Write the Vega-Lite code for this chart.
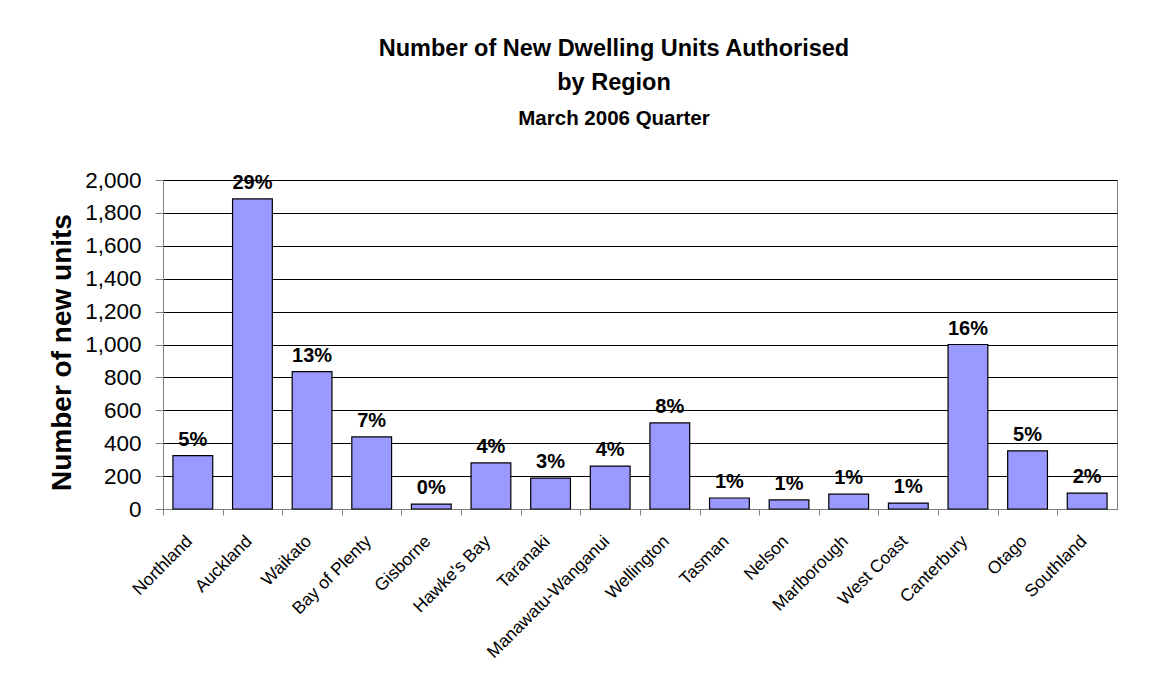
{
  "$schema": "https://vega.github.io/schema/vega-lite/v6.json",
  "width": 954,
  "height": 329,
  "autosize": {"type": "none"},
  "padding": {"left": 163, "top": 180, "right": 37, "bottom": 166},
  "background": "white",
  "title": {
    "text": ["Number of New Dwelling Units Authorised", "by Region"],
    "subtitle": "March 2006 Quarter",
    "anchor": "middle",
    "frame": "group",
    "dx": -26,
    "offset": 40,
    "font": "Liberation Sans",
    "fontSize": 23.5,
    "fontWeight": "bold",
    "lineHeight": 34,
    "color": "black",
    "subtitleFont": "Liberation Sans",
    "subtitleFontSize": 20.5,
    "subtitleFontWeight": "bold",
    "subtitleColor": "black",
    "subtitlePadding": 14
  },
  "data": {
    "values": [
      {"region": "Northland", "units": 325, "pct": "5%"},
      {"region": "Auckland", "units": 1885, "pct": "29%"},
      {"region": "Waikato", "units": 835, "pct": "13%"},
      {"region": "Bay of Plenty", "units": 438, "pct": "7%"},
      {"region": "Gisborne", "units": 30, "pct": "0%"},
      {"region": "Hawke's Bay", "units": 280, "pct": "4%"},
      {"region": "Taranaki", "units": 188, "pct": "3%"},
      {"region": "Manawatu-Wanganui", "units": 261, "pct": "4%"},
      {"region": "Wellington", "units": 523, "pct": "8%"},
      {"region": "Tasman", "units": 67, "pct": "1%"},
      {"region": "Nelson", "units": 55, "pct": "1%"},
      {"region": "Marlborough", "units": 90, "pct": "1%"},
      {"region": "West Coast", "units": 36, "pct": "1%"},
      {"region": "Canterbury", "units": 1000, "pct": "16%"},
      {"region": "Otago", "units": 353, "pct": "5%"},
      {"region": "Southland", "units": 97, "pct": "2%"}
    ]
  },
  "encoding": {
    "x": {
      "field": "region",
      "type": "nominal",
      "sort": null,
      "scale": {"paddingInner": 0.333, "paddingOuter": 0.1667},
      "axis": {
        "title": null,
        "labelAngle": -45,
        "labelFont": "Liberation Sans",
        "labelFontSize": 17.5,
        "labelColor": "black",
        "bandPosition": 0,
        "tickOffset": -10,
        "labelOffset": 0,
        "labelPadding": 17,
        "tickSize": 6,
        "tickColor": "#808080",
        "domainColor": "#808080",
        "grid": false
      }
    },
    "y": {
      "field": "units",
      "type": "quantitative",
      "scale": {"domain": [0, 2000], "nice": false},
      "axis": {
        "title": "Number of new units",
        "titleFont": "Liberation Sans",
        "titleFontSize": 28,
        "titleFontWeight": "bold",
        "titleColor": "black",
        "titlePadding": 8,
        "titleY": 172,
        "values": [0, 200, 400, 600, 800, 1000, 1200, 1400, 1600, 1800, 2000],
        "format": ",d",
        "labelFont": "Liberation Sans",
        "labelFontSize": 22.5,
        "labelColor": "black",
        "labelPadding": 14,
        "tickSize": 8,
        "tickColor": "#808080",
        "domainColor": "#808080",
        "grid": true,
        "gridColor": "black",
        "gridOpacity": 1
      }
    }
  },
  "layer": [
    {
      "mark": {"type": "bar", "color": "#9999FF", "stroke": "black", "strokeWidth": 1.2}
    },
    {
      "mark": {"type": "text", "font": "Liberation Sans", "fontSize": 20, "fontWeight": "bold", "color": "black", "baseline": "alphabetic", "dy": -10},
      "encoding": {"text": {"field": "pct"}}
    }
  ],
  "config": {
    "view": {"stroke": "#808080", "strokeWidth": 1}
  }
}
